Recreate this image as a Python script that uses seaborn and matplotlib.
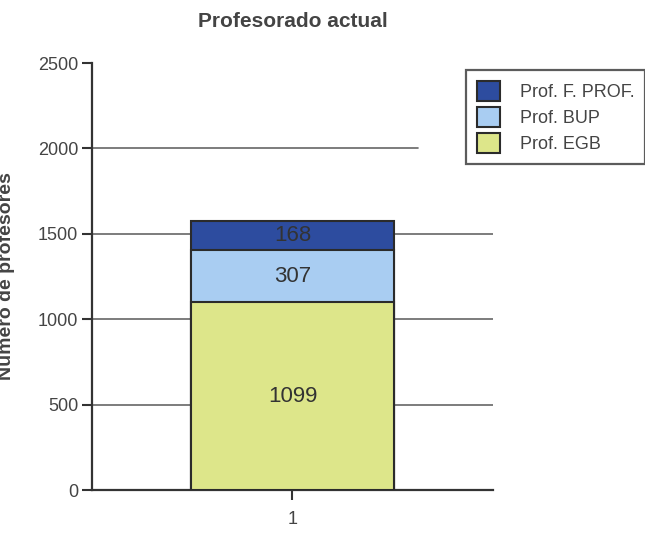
import matplotlib
matplotlib.use("Agg")
import matplotlib.pyplot as plt
import seaborn as sns
import pandas as pd
from matplotlib.patches import Patch

# Data
categories = ["1"]
series_names = ["Prof. F. PROF.", "Prof. BUP", "Prof. EGB"]
egb = [1099]
bup = [307]
fprof = [168]
colors = {"Prof. EGB": "#dde68a", "Prof. BUP": "#a9cdf2", "Prof. F. PROF.": "#2d4c9f"}
yticks = [0, 500, 1000, 1500, 2000, 2500]

sns.set_style("white")
plt.rcParams["font.family"] = ["Liberation Sans", "DejaVu Sans"]

df = pd.DataFrame({"cat": categories, "egb": egb, "bup": bup, "fprof": fprof})
df["bup_top"] = df["egb"] + df["bup"]
df["fprof_top"] = df["bup_top"] + df["fprof"]

fig = plt.figure(figsize=(6.45, 5.36), dpi=100)
ax = fig.add_axes([0.1426, 0.0858, 0.6217, 0.7966])

# grid lines
for t in yticks[1:-1]:
    xmax = 0.813 if t == 2000 else 1.0
    ax.axhline(t, xmin=0, xmax=xmax, color="#666666", lw=1.2, zorder=0)

edge = "#2b2b2b"
sns.barplot(data=df, x="cat", y="fprof_top", color=colors["Prof. F. PROF."], width=0.504,
            edgecolor=edge, linewidth=1.5, saturation=1, ax=ax, zorder=2)
sns.barplot(data=df, x="cat", y="bup_top", color=colors["Prof. BUP"], width=0.504,
            edgecolor=edge, linewidth=1.5, saturation=1, ax=ax, zorder=3)
sns.barplot(data=df, x="cat", y="egb", color=colors["Prof. EGB"], width=0.504,
            edgecolor=edge, linewidth=1.5, saturation=1, ax=ax, zorder=4)

# labels in the middle of each segment
for i in range(len(df)):
    for bottom, val in [(0, df["egb"][i]), (df["egb"][i], df["bup"][i]), (df["bup_top"][i], df["fprof"][i])]:
        ax.text(i, bottom + val / 2, str(val), ha="center", va="center",
                fontsize=16, color="#333333", zorder=5)

ax.set_xlim(-0.5, 0.5)
ax.set_ylim(0, 2500)
ax.set_yticks(yticks)
ax.tick_params(axis="y", labelsize=13, length=7, width=1.5, color="#333333", labelcolor="#444444", direction="out", left=True, pad=3)
ax.tick_params(axis="x", labelsize=13, length=7, width=1.5, color="#333333", labelcolor="#444444", direction="out", bottom=True, pad=8)
ax.set_xlabel("")
ax.set_ylabel("Número de profesores", fontsize=14, fontweight="bold", color="#444444", labelpad=16)
ax.set_title("Profesorado actual", fontsize=15, fontweight="bold", color="#444444", pad=26)

for s in ["top", "right"]:
    ax.spines[s].set_visible(False)
for s in ["left", "bottom"]:
    ax.spines[s].set_color("#333333")
    ax.spines[s].set_linewidth(1.6)

handles = [Patch(facecolor=colors[n], edgecolor=edge, linewidth=1.5, label=n) for n in series_names]
leg = fig.legend(handles=handles, loc="upper left", bbox_to_anchor=(0.708, 0.886),
                 frameon=True, fancybox=False, fontsize=13, handlelength=1.3, handleheight=1.3,
                 borderpad=0.6, labelspacing=0.35, handletextpad=1.1, edgecolor="#333333")
leg.get_frame().set_linewidth(1.6)
for t in leg.get_texts():
    t.set_color("#444444")

fig.savefig("out.png", dpi=100, facecolor="white")
